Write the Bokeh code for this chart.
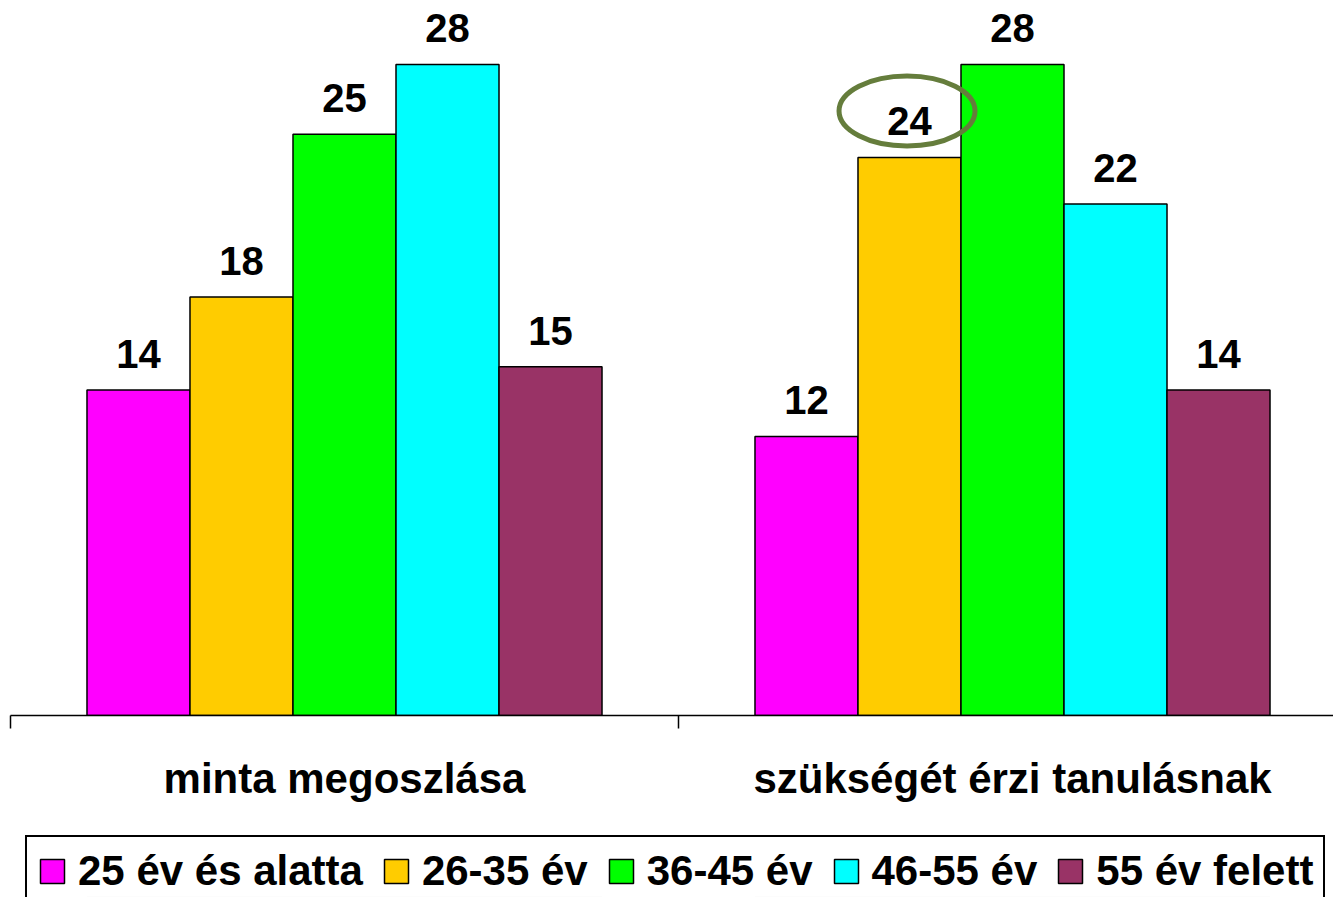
from bokeh.plotting import figure
from bokeh.layouts import column
from bokeh.models import Range1d, FixedTicker, ColumnDataSource, LabelSet, Legend, LegendItem
from bokeh.core.properties import value
from bokeh.embed import file_html
from bokeh.resources import INLINE

categories = ["minta megoszlása", "szükségét érzi tanulásnak"]
series = ["25 év és alatta", "26-35 év", "36-45 év", "46-55 év", "55 év felett"]
colors = ["#FF00FF", "#FFCC00", "#00FF00", "#00FFFF", "#993366"]
values_minta = [14, 18, 25, 28, 15]
values_szukseg = [12, 24, 28, 22, 14]
highlight = (1, 1)  # (category index, series index) circled in the original

FONT = "Liberation Sans"
BAR_W = 0.1542
X_END = 1323 / 668

p = figure(width=1333, height=830, output_backend="svg", toolbar_location=None,
           x_range=Range1d(0, X_END), y_range=Range1d(0, 30.75),
           min_border_left=10, min_border_right=0, min_border_top=0, min_border_bottom=115)
p.outline_line_color = None
p.grid.visible = False
p.yaxis.visible = False
p.background_fill_color = "white"

all_vals = [values_minta, values_szukseg]
sources = []
for si, name in enumerate(series):
    xs = [ci + 0.5 + (si - 2) * BAR_W for ci in range(len(categories))]
    ys = [all_vals[ci][si] for ci in range(len(categories))]
    src = ColumnDataSource(dict(x=xs, top=ys, lbl=[str(v) for v in ys]))
    sources.append(src)
    p.vbar(x="x", top="top", bottom=0, width=BAR_W, source=src,
           fill_color=colors[si], line_color="black", line_width=1.5)
    p.add_layout(LabelSet(x="x", y="top", text="lbl", source=src, text_align="center",
                          text_baseline="alphabetic", y_offset=22,
                          text_font=value(FONT), text_font_style="bold",
                          text_font_size="40px", text_color="black"))

# highlight ellipse around the circled label
ci, si = highlight
p.ellipse(x=[ci + 0.5 + (si - 2) * BAR_W - 0.0037], y=[all_vals[ci][si] + 2.0],
          width=136, height=70, width_units="screen", height_units="screen",
          fill_color=None, line_color="#657D3C", line_width=5)

ax = p.xaxis[0]
ax.ticker = FixedTicker(ticks=[i + 0.5 for i in range(len(categories))],
                        minor_ticks=list(range(len(categories) + 1)))
ax.major_label_overrides = {i + 0.5: c for i, c in enumerate(categories)}
ax.major_tick_out = 0
ax.major_tick_in = 0
ax.minor_tick_out = 13
ax.minor_tick_in = 0
ax.minor_tick_line_color = "black"
ax.minor_tick_line_width = 1.5
ax.axis_line_color = "black"
ax.axis_line_width = 1.5
ax.major_label_text_font = FONT
ax.major_label_text_font_style = "bold"
ax.major_label_text_font_size = "42px"
ax.major_label_text_color = "black"
ax.major_label_standoff = 26

# legend strip (series bars lie far outside this view, only the legend is visible)
q = figure(width=1333, height=67, output_backend="svg", toolbar_location=None,
           x_range=Range1d(0, X_END), y_range=Range1d(1000, 1001),
           min_border_left=10, min_border_right=0, min_border_top=0, min_border_bottom=0)
q.outline_line_color = None
q.grid.visible = False
q.axis.visible = False
items = []
for si, name in enumerate(series):
    r = q.vbar(x="x", top="top", bottom=0, width=BAR_W, source=sources[si],
               fill_color=colors[si], line_color="black", line_width=1.5)
    items.append(LegendItem(label=name, renderers=[r]))
legend = Legend(items=items, orientation="horizontal", location=(15, -10),
                label_text_font=FONT, label_text_font_style="bold",
                label_text_font_size="42px", label_text_color="black",
                glyph_width=30, glyph_height=30, label_standoff=11, spacing=18,
                padding=10, margin=0, border_line_color="black", border_line_alpha=1.0,
                border_line_width=2, background_fill_color="white")
q.add_layout(legend, "center")

layout = column(p, q, spacing=0)
open("out.html", "w").write(file_html(layout, INLINE))
